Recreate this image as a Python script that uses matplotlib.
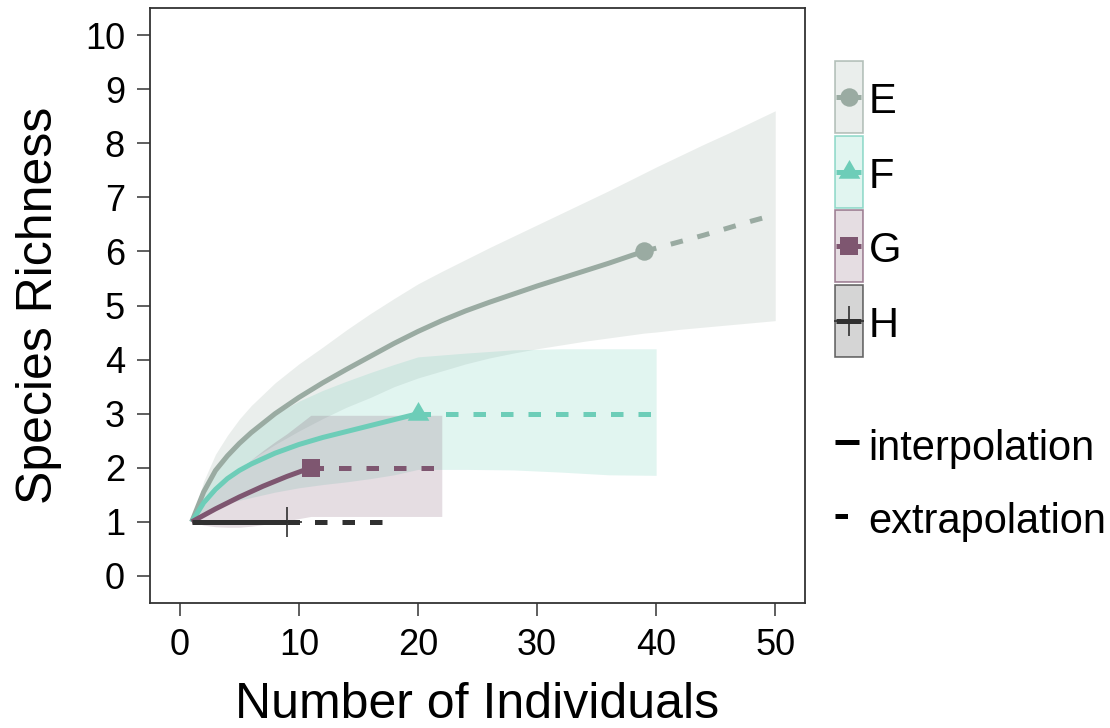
import matplotlib
matplotlib.use("Agg")
import matplotlib.pyplot as plt
import numpy as np
from matplotlib.patches import Rectangle
from matplotlib.path import Path

plt.rcParams['font.family'] = ['Liberation Sans', 'DejaVu Sans']

# ---------------- data ----------------
assemblages = ["E", "F", "G", "H"]
observed_n = [39, 20, 11, 9]

# E
e_m = [1, 2, 3, 4, 5, 6, 8, 10, 12, 14, 16, 18, 20, 22, 24, 26, 28, 30, 32, 34,
       36, 38, 39, 40, 42, 44, 46, 48, 50]
e_qd = [1.0, 1.55, 1.95, 2.22, 2.45, 2.65, 3.0, 3.3, 3.57, 3.82, 4.06, 4.3, 4.52,
        4.72, 4.9, 5.06, 5.21, 5.36, 5.5, 5.64, 5.78, 5.93, 6.0, 6.06, 6.18, 6.3,
        6.43, 6.56, 6.68]
e_ucl = [1.0, 1.75, 2.25, 2.6, 2.9, 3.15, 3.57, 3.92, 4.23, 4.55, 4.85, 5.13, 5.4,
         5.63, 5.85, 6.07, 6.28, 6.49, 6.7, 6.91, 7.12, 7.34, 7.45, 7.56, 7.77,
         7.98, 8.18, 8.39, 8.6]
e_lcl = [1.0, 1.35, 1.65, 1.84, 2.0, 2.15, 2.43, 2.68, 2.91, 3.12, 3.3, 3.5, 3.66,
         3.79, 3.92, 4.03, 4.12, 4.2, 4.27, 4.34, 4.4, 4.46, 4.49, 4.51, 4.56,
         4.6, 4.64, 4.68, 4.72]

# F
f_m = [1, 2, 3, 4, 5, 6, 8, 10, 12, 14, 16, 18, 20, 24, 28, 32, 36, 40]
f_qd = [1.0, 1.35, 1.6, 1.8, 1.95, 2.07, 2.27, 2.43, 2.56, 2.67, 2.78, 2.89, 3.0,
        3.0, 3.0, 3.0, 3.0, 3.0]
f_ucl = [1.0, 1.55, 1.95, 2.25, 2.5, 2.69, 2.99, 3.23, 3.43, 3.6, 3.76, 3.91, 4.05,
         4.12, 4.18, 4.2, 4.2, 4.2]
f_lcl = [1.0, 1.15, 1.25, 1.35, 1.4, 1.45, 1.55, 1.63, 1.69, 1.74, 1.8, 1.87, 1.97,
         1.97, 1.96, 1.92, 1.87, 1.86]

# G
g_m = [1, 2, 3, 4, 5, 6, 7, 8, 9, 10, 11, 14, 18, 22]
g_qd = [1.0, 1.12, 1.24, 1.35, 1.46, 1.56, 1.66, 1.75, 1.84, 1.92, 2.0, 2.0, 2.0, 2.0]
g_ucl = [1.0, 1.3, 1.55, 1.77, 1.97, 2.15, 2.32, 2.48, 2.63, 2.8, 2.97, 2.97, 2.97,
         2.97]
g_lcl = [1.0, 0.94, 0.91, 0.9, 0.9, 0.92, 0.95, 0.98, 1.02, 1.06, 1.1, 1.1, 1.1, 1.1]

# H
h_m = [1, 3, 5, 7, 9, 12, 15, 18]
h_qd = [1.0, 1.0, 1.0, 1.0, 1.0, 1.0, 1.0, 1.0]
h_ucl = [1.0, 1.0, 1.0, 1.0, 1.0, 1.0, 1.0, 1.0]
h_lcl = [1.0, 1.0, 1.0, 1.0, 1.0, 1.0, 1.0, 1.0]

x_ticks = [0, 10, 20, 30, 40, 50]
y_ticks = [0, 1, 2, 3, 4, 5, 6, 7, 8, 9, 10]
method_labels = ["interpolation", "extrapolation"]

# ---------------- style ----------------
colors = ["#9AABA2", "#6DCDB8", "#7E5670", "#303030"]
tri = Path([(-1, -0.577), (1, -0.577), (0, 1.155), (-1, -0.577)],
           [Path.MOVETO, Path.LINETO, Path.LINETO, Path.CLOSEPOLY])
markers = ['o', tri, 's', '+']
msizes = [13.3, 18, 13.5, 21]
LW = 3.6
DASH = (0, (2.5, 3.0))

series = [
    (e_m, e_qd, e_lcl, e_ucl),
    (f_m, f_qd, f_lcl, f_ucl),
    (g_m, g_qd, g_lcl, g_ucl),
    (h_m, h_qd, h_lcl, h_ucl),
]

W, H = 1110, 728
fig = plt.figure(figsize=(W / 100, H / 100), dpi=100)
ax = fig.add_axes([150 / W, 1 - 603 / H, 655 / W, 595 / H])

for (m, qd, lcl, ucl), obs, col, mk, ms in zip(series, observed_n, colors,
                                               markers, msizes):
    m = np.asarray(m)
    qd = np.asarray(qd)
    ax.fill_between(m, lcl, ucl, color=col, alpha=0.2, linewidth=0, zorder=1)
    inter = m <= obs
    extra = m >= obs
    ax.plot(m[inter], qd[inter], color=col, lw=LW, solid_capstyle='butt', zorder=3)
    ax.plot(m[extra], qd[extra], color=col, lw=LW, linestyle=DASH,
            dash_capstyle='butt', zorder=3)
    ax.plot(m[m == obs], qd[m == obs], linestyle='none', marker=mk, ms=ms,
            color=col, mew=1.2 if mk == '+' else 0, zorder=4)

ax.set_xlim(-2.5, 52.5)
ax.set_ylim(-0.5, 10.5)
ax.set_xticks(x_ticks)
ax.set_yticks(y_ticks)
ax.tick_params(labelsize=26, length=9.4, width=1.1, color='#333333', pad=8.6,
               labelcolor='black')
for sp in ax.spines.values():
    sp.set_linewidth(1.3)
    sp.set_color('#333333')

fig.text(477.5 / W, 1 - 718 / H, "Number of Individuals", fontsize=36,
         ha='center', va='baseline')
fig.text(52 / W, 1 - 305 / H, "Species Richness", fontsize=36, rotation=90,
         rotation_mode='anchor', ha='center', va='baseline')

# ---------------- legends ----------------
lax = fig.add_axes([0, 0, 1, 1], zorder=5)
lax.set_xlim(0, W)
lax.set_ylim(H, 0)
lax.axis('off')

key_x0, key_w, key_h, key_top, key_step = 834.5, 28, 72, 61, 74.7
for i, (name, col, mk, ms) in enumerate(zip(assemblages, colors, markers, msizes)):
    top = key_top + i * key_step
    cy = top + key_h / 2
    lax.add_patch(Rectangle((key_x0, top), key_w, key_h, facecolor=col, alpha=0.2,
                            edgecolor='none', zorder=1))
    lax.add_patch(Rectangle((key_x0, top), key_w, key_h, facecolor='none',
                            edgecolor=col, alpha=0.7, lw=1.2, zorder=2))
    lax.plot([key_x0 + 1, key_x0 + key_w - 2], [cy, cy], color=col, lw=LW,
             solid_capstyle='butt', zorder=3)
    lax.plot([key_x0 + key_w / 2], [cy], marker=mk, ms=ms, color=col,
             mew=1.2 if mk == '+' else 0, linestyle='none', zorder=4)
    lax.text(869, cy + 16, name, fontsize=30, ha='left', va='baseline')

lax.plot([835, 859], [442, 442], color='black', lw=LW, solid_capstyle='butt')
lax.text(868, 460, method_labels[0], fontsize=30, ha='left', va='baseline')
lax.plot([835, 859], [516, 516], color='black', lw=LW, linestyle=DASH,
         dash_capstyle='butt')
lax.text(868, 533, method_labels[1], fontsize=30, ha='left', va='baseline')

fig.savefig("out.png", dpi=100)
